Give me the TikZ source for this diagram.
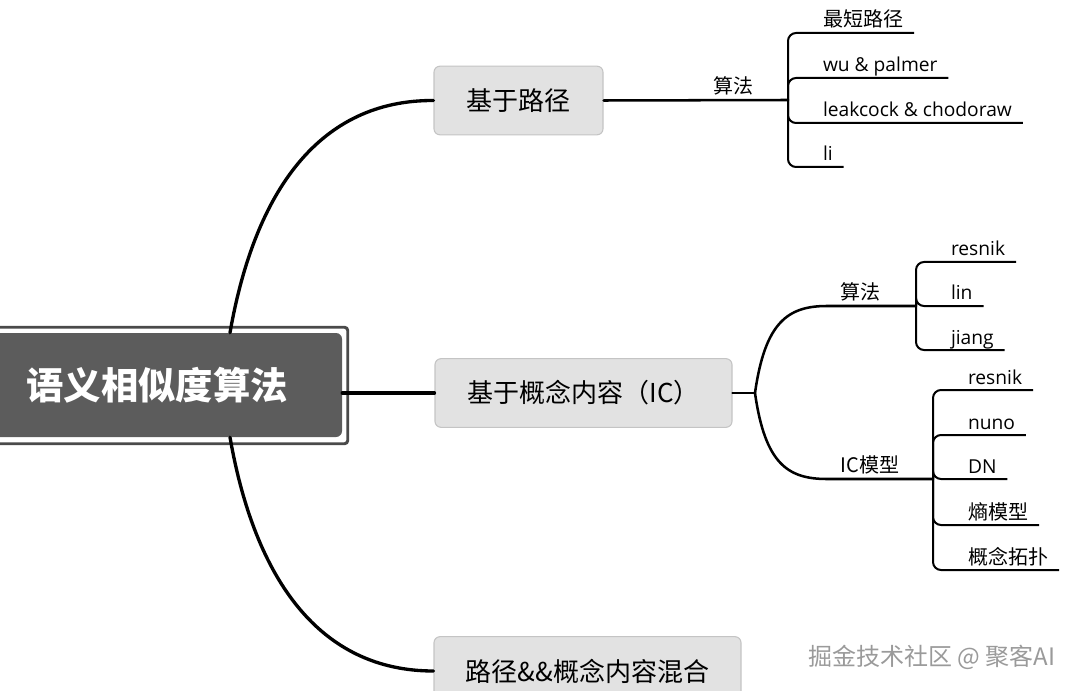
\documentclass[tikz,border=0pt]{standalone}
\usepackage{fontspec}
\setmainfont{Noto Sans CJK SC}
\newfontfamily\latfont{Open Sans}
\usetikzlibrary{calc}
\definecolor{rootfill}{HTML}{5C5C5C}
\definecolor{rootframe}{HTML}{4A4A4A}
\definecolor{boxfill}{HTML}{E2E2E2}
\definecolor{boxdraw}{HTML}{C4C4C4}
\definecolor{wmcol}{HTML}{9A9A9A}
\begin{document}
\begin{tikzpicture}[x=0.75pt,y=-0.75pt,
  rootnode/.style={fill=rootfill, rounded corners=4.5pt, minimum width=277.5pt, minimum height=78pt,
    inner sep=0pt, text=white, font=\bfseries\fontsize{28}{30}\selectfont},
  topicbox/.style={fill=boxfill, draw=boxdraw, line width=0.8pt, rounded corners=4.5pt,
    minimum height=51.5pt, inner sep=0pt, font=\fontsize{19.5}{22}\selectfont},
  mainline/.style={line width=2.5pt, line cap=round},
  subline/.style={line width=1.9pt, line cap=round},
  leafline/.style={line width=1.5pt, rounded corners=6pt},
  lbl/.style={anchor=south, inner xsep=0pt, inner ysep=4.5pt, text depth=0pt, font=\fontsize{15}{17}\selectfont},
  leaf/.style={anchor=south west, inner xsep=8.25pt, inner ysep=4.5pt, text depth=0pt, outer sep=0pt, font=\fontsize{15}{17}\selectfont},
  latleaf/.style={leaf, font=\latfont\fontsize{14.4}{17}\selectfont},
  watermark/.style={text=wmcol, font=\fontsize{18}{20}\selectfont}
]
\useasboundingbox (0,0) rectangle (1080,691);

% root
\node[rootnode] (root) at (157,385) {语义相似度算法};
\draw[rootframe, line width=2.2pt, rounded corners=2.5pt]
  ($(root.north west)+(-12,-5.5)$) rectangle ($(root.south east)+(5.5,6.5)$);

% level-1 topics
\node[topicbox, minimum width=126.75pt] (p1) at (518.5,100.5) {基于路径};
\node[topicbox, minimum width=222.75pt] (p2) at (583.5,393) {基于概念内容（IC）};
\node[topicbox, minimum width=230.25pt] (p3) at (587.5,671) {路径\&\&概念内容混合};

\draw[mainline] ($(root.north)+(73,0)$) .. controls (255,190) and (320,100) .. (p1.west);
\draw[mainline] ($(root.south)+(73,0)$) .. controls (255,580) and (320,671) .. (p3.west);
\draw[mainline] (root.east |- p2.west) -- (p2.west);

% group 1: 基于路径 -> 算法
\node[lbl] (a1) at (733,100) {算法};
\coordinate (j1) at (788,100);
\draw[subline] (p1.east) -- (j1);
\node[leaf] (l11) at (812,33) {最短路径};
\node[latleaf] (l12) at (812,78) {wu \& palmer};
\node[latleaf] (l13) at (812,123) {leakcock \& chodoraw};
\node[latleaf] (l14) at (812,167) {li};
\foreach \c in {l11,l12,l13,l14} \draw[leafline] (j1) |- (\c.south east);

% group 2: 基于概念内容
\coordinate (k0) at (755,393);
\node[lbl] (a2) at (860,306) {算法};
\node[lbl] (a3) at (870,479) {IC模型};
\coordinate (j2) at (916,306);
\coordinate (j3) at (933,479);
\draw[subline] (p2.east) -- (k0);
\draw[subline] (k0) .. controls (765,322) and (788,306) .. (827,306) -- (j2);
\draw[subline] (k0) .. controls (765,464) and (788,479) .. (827,479) -- (j3);

\node[latleaf] (l21) at (940,262) {resnik};
\node[latleaf] (l22) at (940,306) {lin};
\node[latleaf] (l23) at (940,350) {jiang};
\foreach \c in {l21,l22,l23} \draw[leafline] (j2) |- (\c.south east);

\node[latleaf] (l31) at (957,390) {resnik};
\node[latleaf] (l32) at (957,435) {nuno};
\node[latleaf] (l33) at (957,479) {DN};
\node[leaf] (l34) at (957,525) {熵模型};
\node[leaf] (l35) at (957,570) {概念拓扑};
\foreach \c in {l31,l32,l33,l34,l35} \draw[leafline] (j3) |- (\c.south east);

% watermark
\node[watermark] (wm) at (932,657) {掘金技术社区 @ 聚客AI};
\end{tikzpicture}
\end{document}
